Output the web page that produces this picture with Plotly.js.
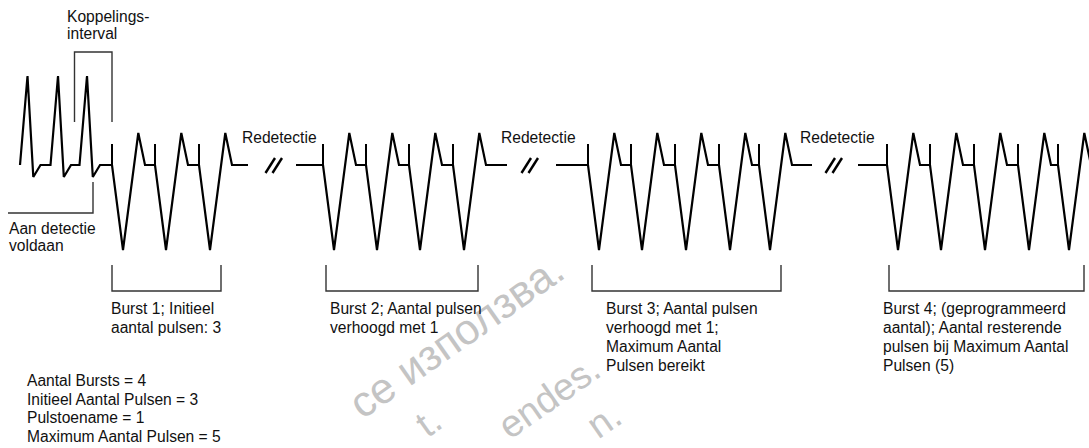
<!DOCTYPE html>
<html>
<head>
<meta charset="utf-8">
<script src="https://cdn.plot.ly/plotly-3.0.1.min.js"></script>
<style>
  html, body { margin: 0; padding: 0; background: #ffffff; }
  #chart { width: 1089px; height: 448px; }
</style>
</head>
<body>
<div id="chart"></div>
<script>
// ---------------- DATA (time axis in drawing units) ----------------
const intrinsicOnsets = [20, 50.5, 79.5];          // pre-detection beats
const burst1Marks = [112, 155, 199];
const burst2Marks = [323, 366, 409, 453];
const burst3Marks = [588, 631, 675, 719, 759];
const burst4Marks = [887, 930, 974, 1018, 1058];
const burstMarks = [burst1Marks, burst2Marks, burst3Marks, burst4Marks];
const burstTailEnds = [248, 507, 812];              // end of baseline after burst
const redetectResume = [296, 556, 858];             // baseline resumes after break
const breakCenters = [274, 530, 834];               // "//" time breaks
const bracketStarts = [112, 326, 592, 889];
const bracketEnds = [221, 478, 781, 1084];
const couplingInterval = [74.5, 112];               // Koppelingsinterval bracket
const detectionMet = [8, 93];                       // Aan detectie voldaan bracket

const redetectLabel = 'Redetectie';
const couplingLabel = ['Koppelings-', 'interval'];
const detectionLabel = ['Aan detectie', 'voldaan'];
const burstLabelLines = [
  ['Burst 1; Initieel', 'aantal pulsen: 3'],
  ['Burst 2; Aantal pulsen', 'verhoogd met 1'],
  ['Burst 3; Aantal pulsen', 'verhoogd met 1;', 'Maximum Aantal', 'Pulsen bereikt'],
  ['Burst 4; (geprogrammeerd', 'aantal); Aantal resterende', 'pulsen bij Maximum Aantal', 'Pulsen (5)']
];
const paramLines = ['Aantal Bursts = 4', 'Initieel Aantal Pulsen = 3', 'Pulstoename = 1', 'Maximum Aantal Pulsen = 5'];
const watermarks = ['се използва.', 'endes.', 't.', 'n.'];

// ---------------- GEOMETRY / STYLE ----------------
const BASE = 165, IPEAK = 76, IDIP = 177;
const PPEAK = 133, TROUGH = 250, MARKTOP = 144;
const FONT = 'Liberation Sans, Arial, Helvetica, sans-serif';
const FS = 15.6;

// waveform
const wx = [], wy = [];
intrinsicOnsets.forEach(o => {
  wx.push(o, o + 7.5, o + 13.3, o + 20.5);
  wy.push(BASE, IPEAK, IDIP, BASE);
});
burstMarks.forEach((marks, b) => {
  if (b > 0) { wx.push(null); wy.push(null); wx.push(redetectResume[b - 1]); wy.push(BASE); }
  marks.forEach(m => {
    wx.push(m, m + 11, m + 26.3, m + 33);
    wy.push(BASE, TROUGH, PPEAK, BASE);
  });
  if (b < burstTailEnds.length) { wx.push(burstTailEnds[b]); wy.push(BASE); }
});

// pulse markers
const mx = [], my = [];
burstMarks.flat().forEach(m => { mx.push(m, m, null); my.push(MARKTOP, BASE, null); });

// breaks
const sx = [], sy = [];
breakCenters.forEach(c => {
  sx.push(c - 8.5, c + 1, null, c - 1.5, c + 8, null);
  sy.push(173, 158, null, 173, 158, null);
});

// brackets
const bx = [], by = [];
bracketStarts.forEach((s, i) => {
  const e = bracketEnds[i];
  bx.push(s, s, e, e, null); by.push(265, 291, 291, 265, null);
});
bx.push(couplingInterval[0], couplingInterval[0], couplingInterval[1], couplingInterval[1], null);
by.push(122, 52, 52, 122, null);
bx.push(detectionMet[0], detectionMet[1], detectionMet[1], null);
by.push(213, 213, 182, null);

const traces = [
  { x: wx, y: wy, mode: 'lines', line: { color: '#000', width: 2.2 }, connectgaps: false, hoverinfo: 'skip' },
  { x: mx, y: my, mode: 'lines', line: { color: '#000', width: 2.0 }, connectgaps: false, hoverinfo: 'skip' },
  { x: sx, y: sy, mode: 'lines', line: { color: '#000', width: 2.4 }, connectgaps: false, hoverinfo: 'skip' },
  { x: bx, y: by, mode: 'lines', line: { color: '#333', width: 1.4 }, connectgaps: false, hoverinfo: 'skip' }
];

// ---------------- TEXT ----------------
const annotations = [];
function textLine(txt, x, baseline, size) {
  const fs = size || FS;
  annotations.push({
    text: txt, x: x, y: baseline - 0.3465 * fs, xref: 'x', yref: 'y',
    xanchor: 'left', yanchor: 'middle', showarrow: false, borderpad: 0,
    font: { family: FONT, size: fs, color: '#111' }
  });
}
// watermark fragments (drawn first, underneath)
const wmPos = [[456, 336], [549, 397], [428, 422], [604, 420]];
const wmSize = [43, 38, 38, 38];
watermarks.forEach((t, i) => {
  annotations.push({
    text: t, x: wmPos[i][0], y: wmPos[i][1], xref: 'x', yref: 'y',
    xanchor: 'center', yanchor: 'middle', showarrow: false, textangle: -35,
    borderpad: 0,
    font: { family: FONT, size: wmSize[i], color: '#c4c4c4' }
  });
});
couplingLabel.forEach((t, i) => textLine(t, 66, 21.7 + i * 17.6));
detectionLabel.forEach((t, i) => textLine(t, 7.5, 234.3 + i * 17));
[241, 499.5, 798.5].forEach(x => textLine(redetectLabel, x, 142.7));
const burstLabelX = [110, 328.5, 605, 882];
burstLabelLines.forEach((lines, b) => {
  lines.forEach((t, i) => textLine(t, burstLabelX[b], 314.3 + i * 19));
});
paramLines.forEach((t, i) => textLine(t, 26, 386 + i * 18.6));

const layout = {
  width: 1089, height: 448,
  margin: { l: 0, r: 0, t: 0, b: 0, pad: 0 },
  paper_bgcolor: '#ffffff', plot_bgcolor: '#ffffff',
  showlegend: false, hovermode: false,
  xaxis: { range: [0, 1089], visible: false, fixedrange: true },
  yaxis: { range: [448, 0], visible: false, fixedrange: true },
  annotations: annotations
};

Plotly.newPlot('chart', traces, layout, { staticPlot: true, displayModeBar: false });
</script>
</body>
</html>
